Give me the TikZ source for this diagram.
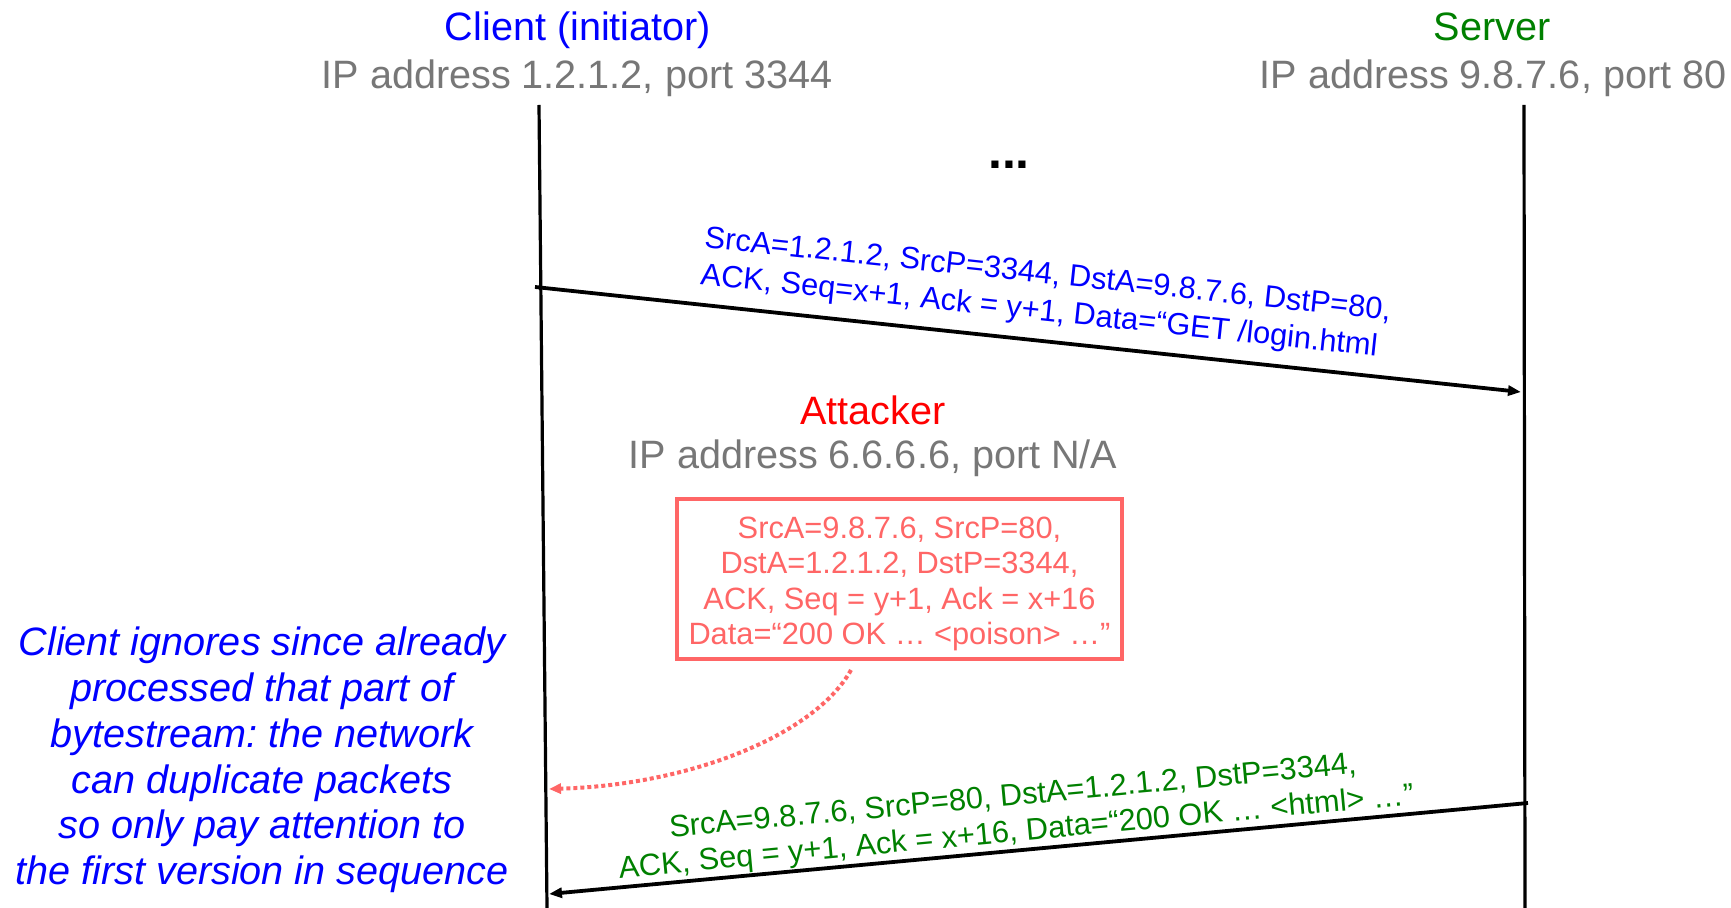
\documentclass[tikz,border=0pt]{standalone}
\usepackage{fontspec}
\setmainfont{Liberation Sans}
\usetikzlibrary{arrows.meta}
\definecolor{tblue}{RGB}{0,0,255}
\definecolor{tgreen}{RGB}{0,128,0}
\definecolor{tgray}{RGB}{119,119,119}
\definecolor{tred}{RGB}{255,0,0}
\definecolor{salmon}{RGB}{255,102,102}
\frenchspacing
\begin{document}
\begin{tikzpicture}[x=0.5pt,y=-0.5pt,
  title/.style={font=\fontsize{19.8}{23}\selectfont, anchor=base, inner sep=0pt},
  msg/.style={font=\fontsize{15.4}{18}\selectfont, inner sep=3pt},
  life/.style={line width=1.6pt},
  msgarrow/.style={line width=1.9pt, -{Triangle[length=6.5pt,width=5pt]}},
]
\useasboundingbox (0,0) rectangle (1731,908);
\fill[white] (0,0) rectangle (1731,908);
% headers
\node[title, text=tblue] (ct) at (578,41) {Client (initiator)};
\node[title, text=tgray] (ci) at (577,89) {IP address 1.2.1.2, port 3344};
\node[title, text=tgreen] (st) at (1492,41) {Server};
\node[title, text=tgray] (si) at (1493,89) {IP address 9.8.7.6, port 80};
\node[title, text=tred] (at) at (873,425) {Attacker};
\node[title, text=tgray] (ai) at (873,469) {IP address 6.6.6.6, port N/A};
\node[font=\fontsize{25}{30}\selectfont\bfseries, anchor=base, inner sep=0pt] (dots) at (1009,169) {...};
% lifelines
\coordinate (cTop) at (539,105);
\coordinate (cBot) at (547,908);
\coordinate (sTop) at (1524,105);
\coordinate (sBot) at (1525,908);
\draw[life] (cTop) -- (cBot);
\draw[life] (sTop) -- (sBot);
% first message
\coordinate (m1s) at (535,287);
\coordinate (m1e) at (1521,392);
\draw[msgarrow] (m1s) -- node[msg, pos=0.513, above=3pt, sloped, align=left, text=tblue,
    font=\fontsize{15.4}{18.6}\selectfont] (m1l)
  {SrcA=1.2.1.2, SrcP=3344, DstA=9.8.7.6, DstP=80,\\ACK, Seq=x+1, Ack = y+1, Data=“GET /login.html} (m1e);
% attacker packet
\node[msg, draw=salmon, line width=1.6pt, text=salmon, align=center,
      minimum width=222.5pt, minimum height=80pt,
      font=\fontsize{15.4}{17.8}\selectfont] (box) at (899.5,579) {};
\node[msg, text=salmon, align=center, font=\fontsize{15.4}{17.8}\selectfont] (boxtext)
  at ([yshift=-2.5pt]box.center)
  {SrcA=9.8.7.6, SrcP=80,\\DstA=1.2.1.2, DstP=3344,\\ACK, Seq = y+1, Ack = x+16\\Data=“200 OK … <poison> …”};
\coordinate (dStart) at (851,670);
\coordinate (dEnd) at (549,789);
\draw[salmon, line width=2pt, dash pattern=on 2pt off 1.5pt, -{Triangle[length=6pt,width=5pt]}]
  (dStart) .. controls (815,735) and (690,785) .. (dEnd);
% second message
\coordinate (m2s) at (1528,803);
\coordinate (m2e) at (549,894);
\draw[msgarrow] (m2s) -- node[msg, pos=0.521, above=-2.5pt, sloped, align=center, text=tgreen] (m2l)
  {SrcA=9.8.7.6, SrcP=80, DstA=1.2.1.2, DstP=3344,\\ACK, Seq = y+1, Ack = x+16, Data=“200 OK … <html> …”} (m2e);
% note
\node[font=\fontsize{19.8}{22.9}\selectfont\itshape, text=tblue, align=center] (note) at (262,760)
  {Client ignores since already\\processed that part of\\bytestream: the network\\can duplicate packets\\so only pay attention to\\the first version in sequence};
\end{tikzpicture}
\end{document}
